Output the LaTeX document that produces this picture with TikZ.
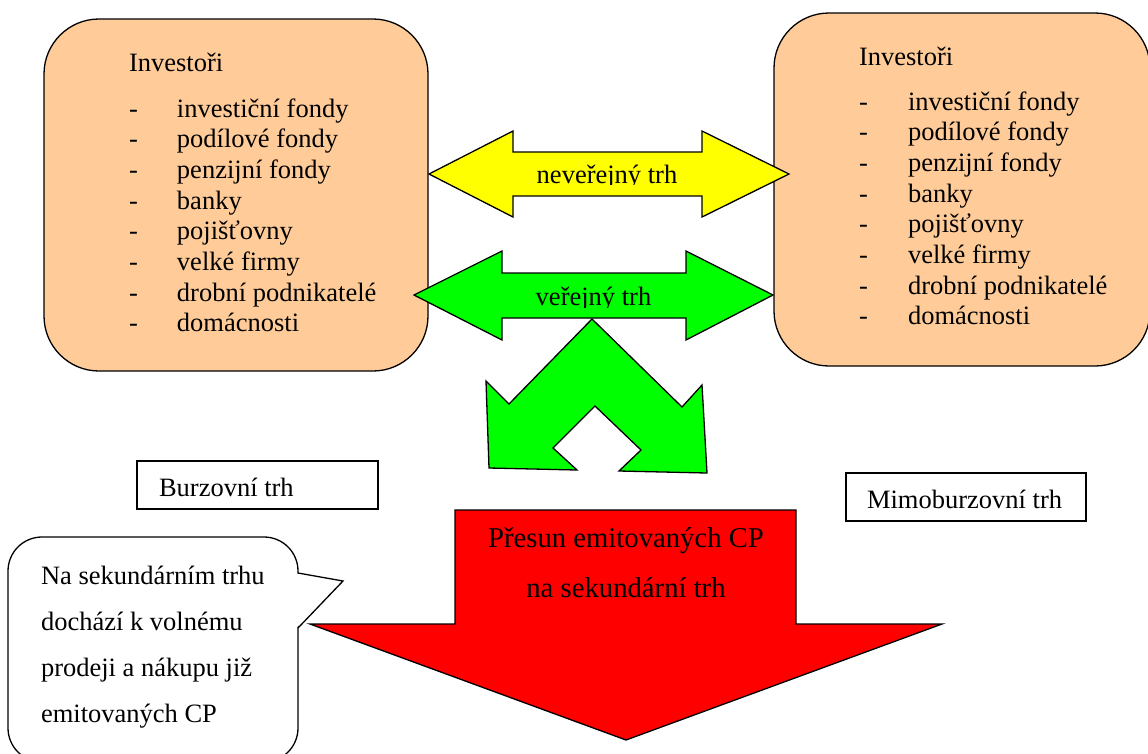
\documentclass[tikz,border=0pt]{standalone}
\usepackage{fontspec}
\setmainfont{Liberation Serif}
\definecolor{peach}{HTML}{FFCC99}
\definecolor{ylw}{HTML}{FFFF00}
\definecolor{grn}{HTML}{00FF00}
\definecolor{rd}{HTML}{FF0000}
% one list entry: dash, tab gap, text
\newcommand\polozka[2]{\makebox[#1][l]{-}#2}
\begin{document}
\begin{tikzpicture}[x=1pt,y=-1pt,
  line width=1.3pt, line join=miter,
  every node/.style={inner sep=0pt, outer sep=0pt},
  txt/.style={font=\fontsize{26.5}{30.7}\selectfont, anchor=base west},
  investbox/.style={draw=black, fill=peach, rounded corners=55pt},
  blockarrow/.style={draw=black},
  labelbox/.style={draw=black, fill=white}]
\useasboundingbox (0,0) rectangle (1148,753);
\clip (0,0) rectangle (1148,753);

% investor boxes
\draw[investbox] (44,19) rectangle (428,371);
\draw[investbox] (774,13) rectangle (1150,366);

\node[txt] (invL) at (129,71) {\begin{tabular}[t]{@{}l@{}}
Investoři\\[15.3pt]
\polozka{48pt}{investiční fondy}\\
\polozka{48pt}{podílové fondy}\\
\polozka{48pt}{penzijní fondy}\\
\polozka{48pt}{banky}\\
\polozka{48pt}{pojišťovny}\\
\polozka{48pt}{velké firmy}\\
\polozka{48pt}{drobní podnikatelé}\\
\polozka{48pt}{domácnosti}
\end{tabular}};

\node[txt] (invR) at (859,65) {\begin{tabular}[t]{@{}l@{}}
Investoři\\[14.3pt]
\polozka{49pt}{investiční fondy}\\
\polozka{49pt}{podílové fondy}\\
\polozka{49pt}{penzijní fondy}\\
\polozka{49pt}{banky}\\
\polozka{49pt}{pojišťovny}\\
\polozka{49pt}{velké firmy}\\
\polozka{49pt}{drobní podnikatelé}\\
\polozka{49pt}{domácnosti}
\end{tabular}};

% yellow double arrow
\draw[blockarrow, fill=ylw] (429,174) -- (513,131) -- (513,152) -- (702,152)
  -- (702,131) -- (789,174) -- (702,217) -- (702,196) -- (513,196)
  -- (513,217) -- cycle;
\begin{scope}
  \clip (513,152) rectangle (702,184);
  \node[txt, anchor=base] (neverejny) at (607,183.5) {neveřejný trh};
\end{scope}

% green double arrow
\draw[blockarrow, fill=grn] (414,295) -- (502,251) -- (502,273) -- (686,273)
  -- (686,251) -- (773,295) -- (686,340) -- (686,318) -- (502,318)
  -- (502,340) -- cycle;
\begin{scope}
  \clip (502,273) rectangle (686,307);
  \node[txt, anchor=base] (verejny) at (593.5,305) {veřejný trh};
\end{scope}

% green split arrow
\draw[blockarrow, fill=grn] (592,319) -- (682,407) -- (702,385) -- (707,473)
  -- (619,471) -- (641,450) -- (595,406) -- (553,448) -- (577,470)
  -- (489,468) -- (486,381) -- (509,404) -- cycle;

% market labels
\draw[labelbox] (137,461) rectangle (378,509);
\node[txt] (burza) at (159,496) {Burzovní trh};
\draw[labelbox] (846,473) rectangle (1086,521);
\node[txt] (mimo) at (867,508) {Mimoburzovní trh};

% red down arrow
\draw[blockarrow, fill=rd] (455,510) -- (796,510) -- (796,624) -- (942,624)
  -- (626,740) -- (310,624) -- (455,624) -- cycle;
\node[font=\fontsize{28.7}{50}\selectfont, anchor=base] (presun1) at (626,547) {Přesun emitovaných CP};
\node[font=\fontsize{28.7}{50}\selectfont, anchor=base] (presun2) at (626,597) {na sekundární trh};

% speech bubble
\draw[labelbox, rounded corners=34pt] (8,537) rectangle (298,762);
\fill[white] (296.5,573.5) -- (343,581) -- (296.5,627.5) -- cycle;
\draw (298,573) -- (343,581) -- (298,628);
\node[txt] (bublina) at (41,584) {\begin{tabular}[t]{@{}l@{}}
Na sekundárním trhu\\[15.3pt]
dochází k volnému\\[15.3pt]
prodeji a nákupu již\\[15.3pt]
emitovaných CP
\end{tabular}};
\end{tikzpicture}
\end{document}
